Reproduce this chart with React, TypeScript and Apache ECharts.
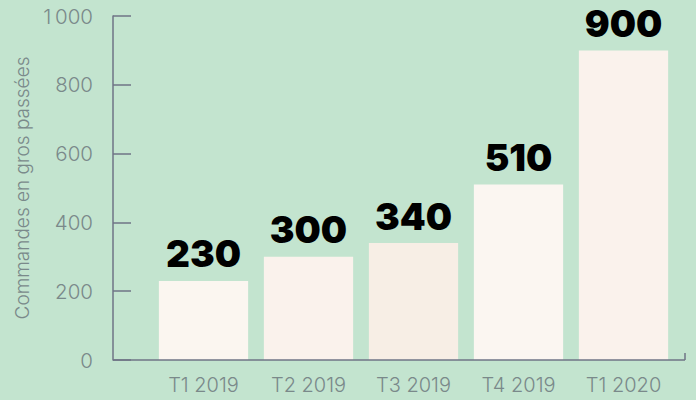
import React, { useEffect, useRef } from "react";
import * as echarts from "echarts";

const categories = ["T1 2019", "T2 2019", "T3 2019", "T4 2019", "T1 2020"];
const values = [230, 300, 340, 510, 900];
const barColors = ["#fbf6f0", "#faf2ec", "#f7eee5", "#fbf6f1", "#faf2ec"];
const yTicks = [0, 200, 400, 600, 800, 1000];

export default function App() {
  const ref = useRef<HTMLDivElement>(null);
  useEffect(() => {
    if (!ref.current) return;
    const chart = echarts.init(ref.current, null, { renderer: "svg" });
    const gray = "#7a898a";
    const axisCol = "#6f7486";
    chart.setOption({
      animation: false,
      backgroundColor: "#c3e4cf",
      grid: { left: 151, right: 20, top: 16, bottom: 40 },
      xAxis: {
        type: "category",
        data: categories,
        axisLine: { show: false },
        axisTick: { show: false },
        axisLabel: {
          interval: 0,
          margin: 15,
          fontSize: 20,
          fontWeight: 300,
          color: gray,
          fontFamily: "Inter",
        },
      },
      yAxis: {
        type: "value",
        min: yTicks[0],
        max: yTicks[yTicks.length - 1],
        interval: 200,
        offset: 38,
        name: "Commandes en gros passées",
        nameLocation: "middle",
        nameGap: 81,
        nameTextStyle: { fontSize: 19, fontWeight: 300, color: gray, fontFamily: "Inter" },
        splitLine: { show: false },
        axisLine: { show: true, lineStyle: { color: axisCol, width: 1.5 } },
        axisTick: { show: true, inside: true, length: 18, lineStyle: { color: axisCol, width: 1.5 } },
        axisLabel: {
          margin: 20,
          fontSize: 20.5,
          fontWeight: 300,
          color: gray,
          fontFamily: "Inter",
          formatter: (v: number) => (v >= 1000 ? String(v).replace(/\B(?=(\d{3})+(?!\d))/g, "\u2009") : String(v)),
        },
      },
      graphic: [
        {
          type: "line",
          shape: { x1: 113, y1: 360, x2: 685, y2: 360 },
          style: { stroke: axisCol, lineWidth: 1.5 },
          z: 10,
        },
        {
          type: "line",
          shape: { x1: 685, y1: 360, x2: 685, y2: 353 },
          style: { stroke: axisCol, lineWidth: 1.5 },
          z: 10,
        },
      ],
      series: [
        {
          type: "bar",
          data: values.map((v, i) => ({ value: v, itemStyle: { color: barColors[i] } })),
          barCategoryGap: "15%",
          label: {
            show: true,
            position: "top",
            distance: 10,
            fontSize: 37,
            lineHeight: 34,
            fontWeight: 900,
            color: "#000",
            fontFamily: "Inter",
          },
        },
      ],
    });
    return () => chart.dispose();
  }, []);
  return <div ref={ref} style={{ width: 696, height: 400, position: "absolute", left: 0, top: 0 }} />;
}
